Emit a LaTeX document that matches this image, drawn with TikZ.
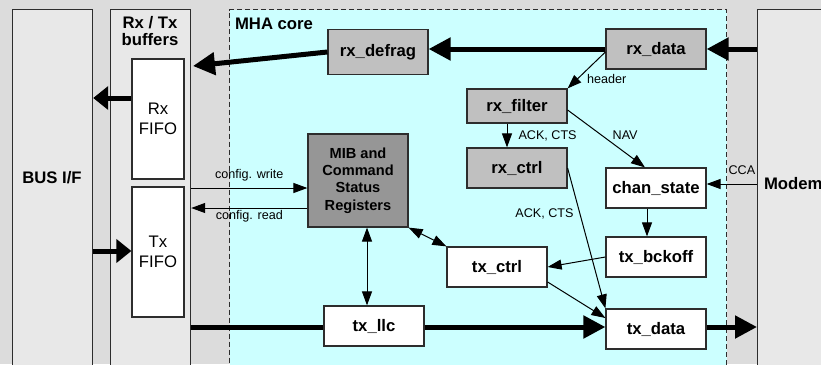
\documentclass[tikz,border=0pt]{standalone}
\usepackage{fontspec}
\setmainfont{Liberation Sans}
\usetikzlibrary{arrows.meta}
\definecolor{bgray}{RGB}{220,220,220}
\definecolor{lgray}{RGB}{232,232,232}
\definecolor{corecol}{RGB}{204,255,255}
\definecolor{mgray}{RGB}{192,192,192}
\definecolor{dgray}{RGB}{150,150,150}
\definecolor{edge}{RGB}{45,45,45}

\begin{document}
\begin{tikzpicture}[x=1pt,y=-1pt,
	blk/.style={draw=edge, line width=1.2pt, inner sep=0pt, minimum width=100pt, minimum height=40pt, font=\fontsize{16.7}{19}\selectfont\bfseries},
	rxblk/.style={blk, fill=mgray},
	txblk/.style={blk, fill=white},
	fifo/.style={draw=edge, line width=1.2pt, fill=white, inner sep=0pt, minimum width=52pt, align=center, font=\fontsize{16.7}{19.5}\selectfont},
	side/.style={draw=edge, line width=1.2pt, fill=lgray, inner sep=0pt, minimum width=80pt, minimum height=370pt, anchor=north west},
	hdr/.style={font=\fontsize{16.7}{17.5}\selectfont\bfseries, align=center},
	lbl/.style={font=\fontsize{12.6}{14}\selectfont, inner sep=2pt},
	datapath/.style={draw=black, line width=5pt, -{Triangle[length=22pt,width=22pt]}},
	ctrl/.style={draw=black, line width=1pt, -{Triangle[length=14pt,width=10pt]}},
	ctrl2/.style={draw=black, line width=1pt, {Triangle[length=14pt,width=10pt]}-{Triangle[length=14pt,width=10pt]}}]
	\fill[bgray] (0,0) rectangle (821,364);
	\useasboundingbox (0,0) rectangle (821,364);
	\clip (0,0) rectangle (821,364);
	% outer blocks
	\node[side] (busif) at (12,9) {};
	\node[side] (buf) at (110,9) {};
	\node[side] (modem) at (757,9) {};
	\node[draw=edge, line width=1pt, dash pattern=on 5pt off 3pt, fill=corecol, inner sep=0pt,
		minimum width=497pt, minimum height=370pt, anchor=north west] (core) at (229,9) {};
	\node[hdr] (bustxt) at (52,178) {BUS I/F};
	\node[hdr] (buftxt) at (150,31) {Rx / Tx\\buffers};
	\node[hdr, anchor=west] (coretxt) at (231.5,23.5) {MHA core};
	\node[hdr, anchor=west] (modemtxt) at (760.5,184) {Modem};
	\node[fifo, minimum height=120pt] (rxfifo) at (158,119) {Rx\\FIFO};
	\node[fifo, minimum height=130pt] (txfifo) at (158,252) {Tx\\FIFO};
	% MHA core blocks
	\node[rxblk, minimum height=45pt] (rxdefrag) at (378,52) {rx\_defrag};
	\node[rxblk] (rxdata) at (656,49) {rx\_data};
	\node[rxblk, minimum height=34pt] (rxfilter) at (517,106) {rx\_filter};
	\node[rxblk] (rxctrl) at (517,168) {rx\_ctrl};
	\node[blk, fill=dgray, minimum height=93pt, align=center, font=\fontsize{14.6}{17.2}\selectfont\bfseries] (mib) at (358,180.5) {MIB and\\Command\\Status\\Registers};
	\node[txblk] (chanstate) at (656,188) {chan\_state};
	\node[txblk] (txbckoff) at (656,257) {tx\_bckoff};
	\node[txblk] (txctrl) at (497,267) {tx\_ctrl};
	\node[txblk] (txllc) at (374,326) {tx\_llc};
	\node[txblk] (txdata) at (656,329) {tx\_data};
	% rails
	\coordinate (rxrail) at (0,49);
	\coordinate (rxbufin) at (193,66);
	\coordinate (rxbus) at (0,98);
	\coordinate (txbus) at (0,251);
	\coordinate (txrail) at (0,327);
	\coordinate (cfgw) at (0,188);
	\coordinate (cfgr) at (0,208);
	\coordinate (ccarail) at (0,184);
	\coordinate (mibrail) at (367,0);
	\coordinate (ackrail) at (507,0);
	% data paths
	\draw[datapath] (modem.west |- rxrail) -- (rxdata.east |- rxrail);
	\draw[datapath] (rxdata.west) -- (rxdefrag.east |- rxrail);
	\draw[datapath] (rxdefrag.west) -- (rxbufin);
	\draw[datapath, -{Triangle[length=15pt,width=23pt]}] (rxfifo.west |- rxbus) -- (busif.east |- rxbus);
	\draw[datapath, -{Triangle[length=15pt,width=23pt]}] (busif.east |- txbus) -- (txfifo.west |- txbus);
	\draw[datapath, -] (buf.east |- txrail) -- (txllc.west |- txrail);
	\draw[datapath] (txllc.east |- txrail) -- (txdata.west |- txrail);
	\draw[datapath] (txdata.east |- txrail) -- (modem.west |- txrail);
	% control signals
	\draw[ctrl] (buf.east |- cfgw) -- node[lbl, above=4pt] (cfgwtxt) {config. write} (mib.west |- cfgw);
	\draw[ctrl] (mib.west |- cfgr) -- node[lbl, below] (cfgrtxt) {config. read} (buf.east |- cfgr);
	\draw[ctrl2] (mib.south -| mibrail) -- (txllc.north -| mibrail);
	\draw[ctrl2] (mib.south east) -- (txctrl.north west);
	\draw[ctrl] ([yshift=-3pt]rxdata.west) -- node[lbl, pos=0.55, anchor=north west] (hdrtxt) {header} (rxfilter.north east);
	\draw[ctrl] (rxfilter.south -| ackrail) -- node[lbl, right=9pt] (ackatxt) {ACK, CTS} (rxctrl.north -| ackrail);
	\draw[ctrl] ([yshift=-4pt]rxfilter.east) -- node[lbl, pos=0.55, above right] (navtxt) {NAV} ([xshift=-11pt]chanstate.north);
	\draw[ctrl] (rxctrl.east) -- node[lbl, pos=0.33, left=4pt] (ackbtxt) {ACK, CTS} (txdata.north west);
	\draw[ctrl] (modem.west |- ccarail) -- node[lbl, pos=0.3, above=7pt] (ccatxt) {CCA} (chanstate.east |- ccarail);
	\draw[ctrl] ([xshift=-9pt]chanstate.south) -- ([xshift=-9pt]txbckoff.north);
	\draw[ctrl] (txbckoff.west) -- (txctrl.east);
	\draw[ctrl] ([yshift=-15pt]txctrl.east) -- ([yshift=11pt]txdata.west);
\end{tikzpicture}
\end{document}
